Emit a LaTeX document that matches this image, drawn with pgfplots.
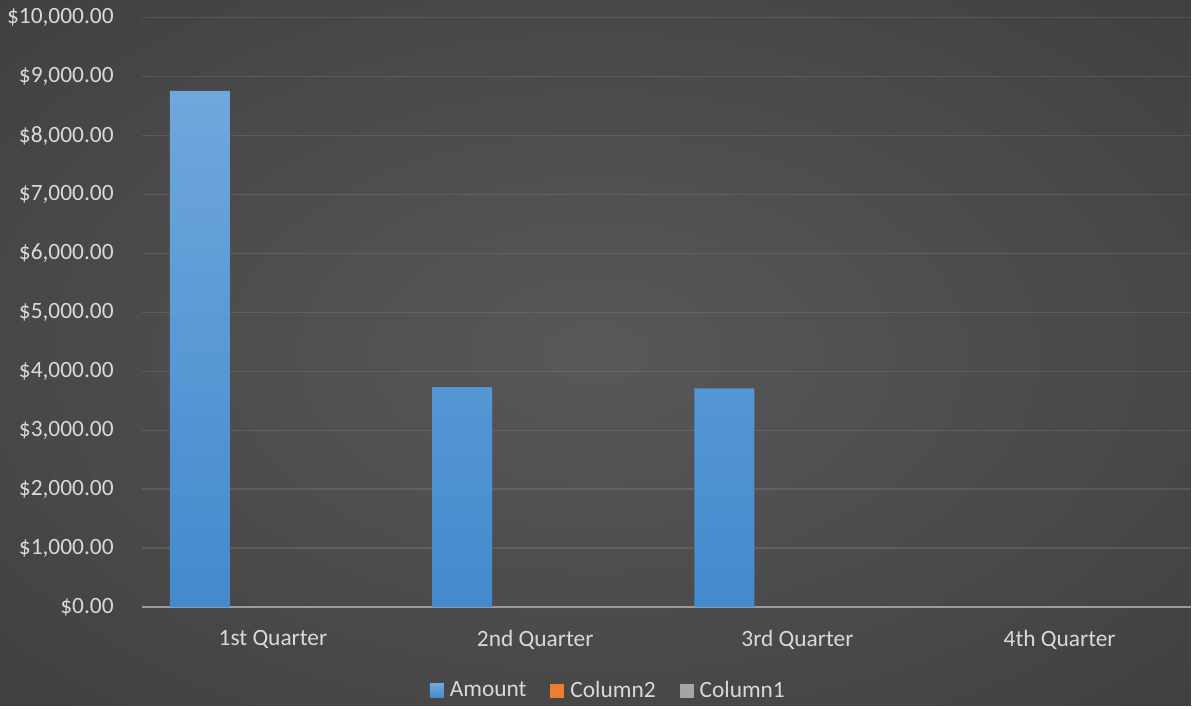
\documentclass[border=0pt]{standalone}
\usepackage{fontspec}
\setmainfont{Carlito}
\usepackage{pgfplots}
\pgfplotsset{compat=1.18}
\definecolor{txt}{RGB}{217,217,217}
\definecolor{bgin}{RGB}{88,88,88}
\definecolor{bgout}{RGB}{40,40,40}
\definecolor{barTop}{RGB}{112,167,221}
\definecolor{barBot}{RGB}{66,138,205}
\definecolor{orangeC}{RGB}{237,125,49}
\definecolor{grayC}{RGB}{165,165,165}
\definecolor{axisC}{RGB}{155,155,155}
\pgfdeclareradialshading{bgshade}{\pgfpoint{0bp}{0bp}}{color(0bp)=(bgin); color(71bp)=(bgout)}
\newcommand{\lbl}{\fontsize{11.7}{14}\selectfont}
\begin{document}
\begin{tikzpicture}[x=1pt,y=1pt]
\shade[shading=bgshade] (0,0) rectangle (596,353);
\begin{axis}[
  at={(71pt,49.15pt)}, anchor=south west,
  scale only axis, width=525pt, height=295pt,
  xmin=-0.5, xmax=3.5, ymin=0, ymax=10000,
  axis x line=bottom, axis y line=left,
  axis line style={-},
  x axis line style={-, draw=axisC, line width=1.25pt},
  y axis line style={draw=none},
  xtick={0,1,2,3},
  xticklabels={1st Quarter,2nd Quarter,3rd Quarter,4th Quarter},
  ytick={0,1000,...,10000},
  scaled y ticks=false,
  major tick length=0pt,
  ymajorgrids,
  major grid style={draw=white, opacity=0.1, line width=0.75pt},
  /pgf/number format/assume math mode=true,
  yticklabel={\$\pgfmathprintnumber[fixed,fixed zerofill,precision=2,1000 sep={,}]{\tick}},
  yticklabel style={font=\lbl, text=txt, anchor=east, xshift=-10.6pt},
  xticklabel style={font=\lbl, text=txt, anchor=north, yshift=-8pt},
  legend style={at={(0.4457,-0.142)}, anchor=center, legend columns=3,
    draw=none, fill=none, text=txt, font=\lbl,
    /tikz/every odd column/.append style={column sep=1pt},
    /tikz/every even column/.append style={column sep=10pt}},
  legend image code/.code={\path[#1,draw=none] (0pt,-3.5pt) rectangle (7pt,3.5pt);},
]
\addplot[ybar, bar width=30pt, bar shift=-36.6pt, draw=none, top color=barTop, bottom color=barBot]
  coordinates {(0,8760) (1,3730) (2,3710)};
\addlegendentry{Amount}
\addlegendimage{fill=orangeC}
\addlegendentry{Column2}
\addlegendimage{fill=grayC}
\addlegendentry{Column1}
\end{axis}
\end{tikzpicture}
\end{document}
